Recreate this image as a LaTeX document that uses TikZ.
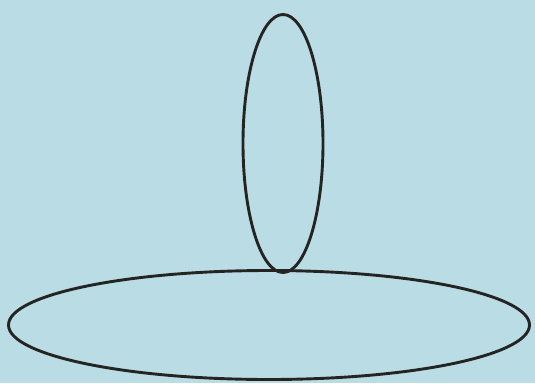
\documentclass[tikz,border=0pt]{standalone}
\usepackage{tikz}
\usetikzlibrary{shapes.geometric,backgrounds}
\definecolor{paperblue}{RGB}{186,220,228}
\definecolor{inkline}{RGB}{36,36,34}
\tikzset{
  ring/.style={draw=inkline, ellipse, line width=2.9pt, inner sep=0pt},
  upright/.style={ring, minimum width=80pt, minimum height=258pt},
  flat/.style={ring, minimum width=521pt, minimum height=109pt}
}

\begin{document}
\begin{tikzpicture}[x=1pt,y=-1pt]
  \fill[paperblue] (0,0) rectangle (535,383);
  \useasboundingbox (0,0) rectangle (535,383);
  \node[upright] (loop) at (283,143.5) {};
  \node[flat] (disc) at (269,325) {};
\end{tikzpicture}
\end{document}
